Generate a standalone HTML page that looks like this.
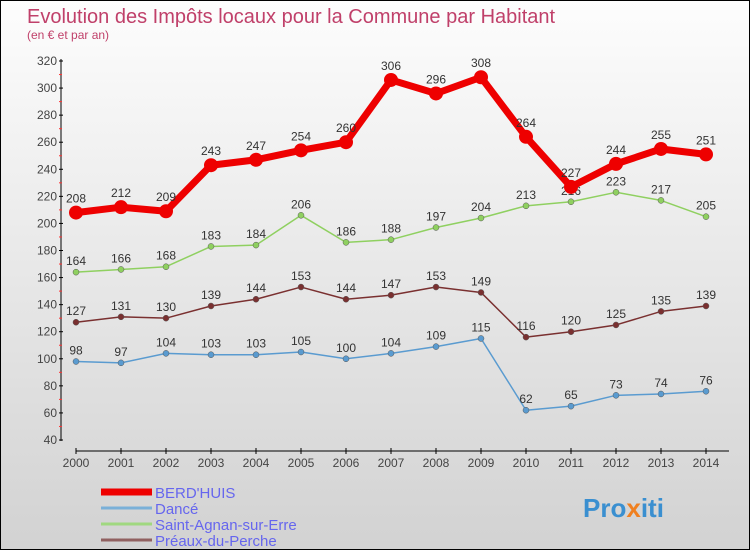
<!DOCTYPE html>
<html><head><meta charset="utf-8"><style>
html,body{margin:0;padding:0}
body{width:750px;height:550px;overflow:hidden;font-family:"Liberation Sans",sans-serif}
#wrap{position:relative;width:748px;height:548px;border:1px solid #000;background:linear-gradient(#fdfdfd,#d2d2d2)}
</style></head><body>
<div id="wrap">
<svg id="chart" width="748" height="548">
<text x="26" y="22" font-size="20" fill="#c0406a">Evolution des Impôts locaux pour la Commune par Habitant</text>
<text x="26" y="38" font-size="12" fill="#c0406a">(en € et par an)</text>
<g id="axes"></g><g id="series"></g><g id="legend"></g>
<text x="582" y="516" font-size="26" font-weight="bold" fill="#3a8fd0">Pro<tspan fill="#f08020">x</tspan>iti</text>
</svg>
</div>
<script>
const years=[2000,2001,2002,2003,2004,2005,2006,2007,2008,2009,2010,2011,2012,2013,2014];
const yTicks=[40,60,80,100,120,140,160,180,200,220,240,260,280,300,320];
const seriesNames=["BERD'HUIS","Dancé","Saint-Agnan-sur-Erre","Préaux-du-Perche"];
const berdhuis=[208,212,209,243,247,254,260,306,296,308,264,227,244,255,251];
const dance=[98,97,104,103,103,105,100,104,109,115,62,65,73,74,76];
const saintAgnan=[164,166,168,183,184,206,186,188,197,204,213,216,223,217,205];
const preaux=[127,131,130,139,144,153,144,147,153,149,116,120,125,135,139];
const NS="http://www.w3.org/2000/svg";
const xS=i=>75+45*i;
const yS=v=>439-(v-40)*(379/280);
function mk(tag,attrs,parent,text){const e=document.createElementNS(NS,tag);for(const k in attrs)e.setAttribute(k,attrs[k]);if(text!==undefined)e.textContent=text;parent.appendChild(e);return e;}
const ax=document.getElementById('axes');
let yl=mk('line',{x1:60,y1:yS(320)-2,x2:60,y2:yS(40)+1,stroke:'#000'},ax);


yTicks.forEach(t=>{
  mk('line',{x1:58,x2:62,y1:yS(t),y2:yS(t),stroke:'#000'},ax);
  if(t<320)mk('line',{x1:58,x2:61,y1:yS(t+10),y2:yS(t+10),stroke:'#f33'},ax);
  const tx=mk('text',{x:56,y:yS(t)+4,'font-size':12,fill:'#444','text-anchor':'end'},ax,t);
  
  
});
let xl=mk('line',{x1:75,x2:728,y1:450,y2:450,stroke:'#000'},ax);


years.forEach((y,i)=>{
  mk('line',{x1:xS(i),x2:xS(i),y1:447,y2:453,stroke:'#000'},ax);
  const tx=mk('text',{x:xS(i),y:466,'font-size':12,fill:'#444','text-anchor':'middle'},ax,y);
  
  
});
const sg=document.getElementById('series');
const defs=[
 {d:dance,c:'#5a9bd0',w:1.5,r:3,name:'dance'},
 {d:preaux,c:'#7a3030',w:1.5,r:3,name:'preaux-du-perche'},
 {d:saintAgnan,c:'#8fd060',w:1.5,r:3,name:'saint-agnan-sur-erre'},
 {d:berdhuis,c:'#ee0000',w:7,r:7,name:'berdhuis'}];
defs.forEach(s=>{
  const pts=s.d.map((v,i)=>xS(i)+','+yS(v)).join(' ');
  const pl=mk('polyline',{points:pts,fill:'none',stroke:s.c,'stroke-width':s.w,'stroke-linejoin':'round'},sg);
  
  
  s.d.forEach((v,i)=>{
    const c=mk('circle',{cx:xS(i),cy:yS(v),r:s.r,fill:s.c,stroke:s.w>2?'none':'#555','stroke-width':0.5},sg);
    
    
    const t=mk('text',{x:xS(i),y:yS(v)-(s.w>2?10:7),'font-size':12,fill:'#333','text-anchor':'middle'},sg,v);
    
    
  });
});
const lg=document.getElementById('legend');
const lc=['#ee0000','#7ab0d8','#a0d880','#906060'],lw=[7,3,3,3];
seriesNames.forEach((n,i)=>{
  const y=491+i*16;
  const l=mk('line',{x1:100,x2:151,y1:y,y2:y,stroke:lc[i],'stroke-width':lw[i]},lg);
  
  
  const t=mk('text',{x:154,y:y+6,'font-size':15,fill:'#6666ee'},lg,n);
  
  
});
</script>
</body></html>
